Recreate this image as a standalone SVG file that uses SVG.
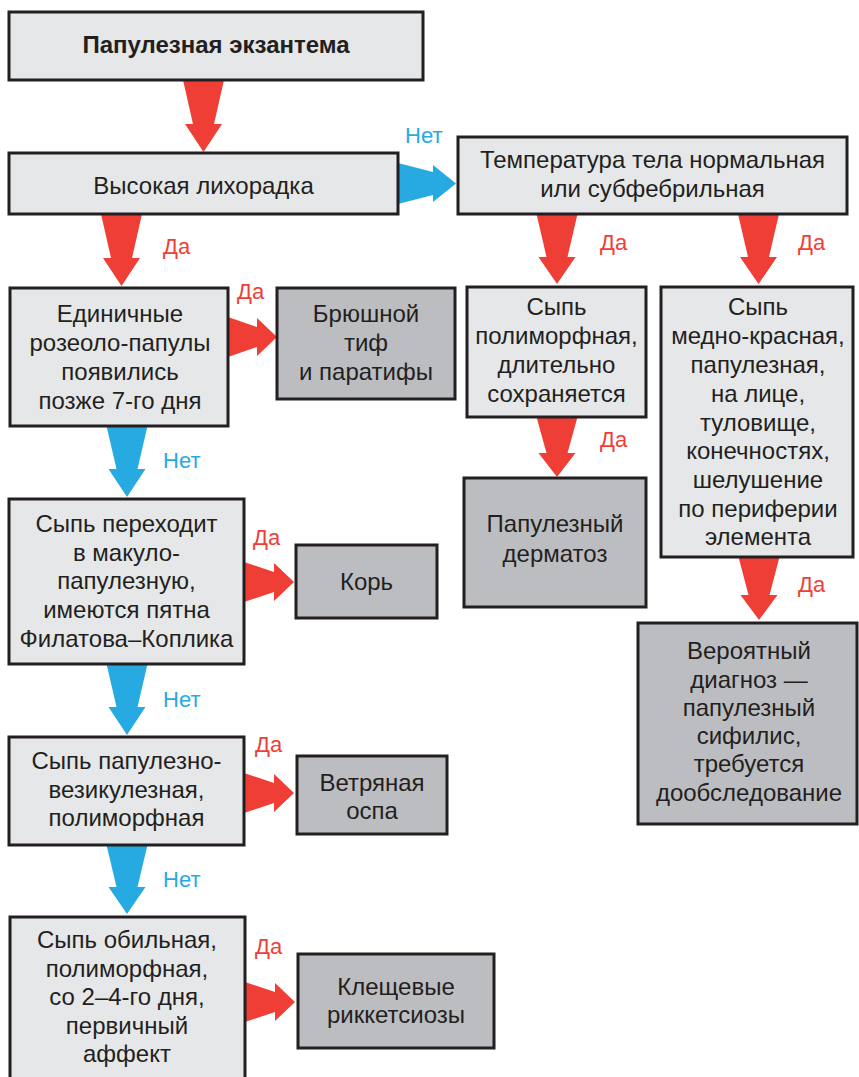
<svg xmlns="http://www.w3.org/2000/svg" width="859" height="1077" viewBox="0 0 859 1077">
<style>
.q{fill:#e6e7e8;stroke:#231f20;stroke-width:3}
.r{fill:#bcbdc0;stroke:#231f20;stroke-width:3}
.t{font-family:"Liberation Sans",Arial,sans-serif;font-size:24px;fill:#231f20;text-anchor:middle}
.b{font-weight:bold}
.red{fill:#ef3e36}
.blue{fill:#27aae1}
.ly{font-family:"Liberation Sans",Arial,sans-serif;font-size:22px;fill:#ef3e36}
.ln{font-family:"Liberation Sans",Arial,sans-serif;font-size:22px;fill:#27aae1}
</style>
<rect width="859" height="1077" fill="#ffffff"/>
<g id="connectors">
<polygon class="red" points="183,80 224,80 214,124 222,124 203.5,152 185,124 193,124"/>
<polygon class="red" points="101,214 142,214 132,258 140,258 121.5,286 103,258 111,258"/>
<polygon class="blue" points="398,163 398,204 433,195 433,202 456,183.5 433,165 433,172"/>
<polygon class="red" points="536.5,214 577.5,214 567.5,257 575.5,257 557,284 538.5,257 546.5,257"/>
<polygon class="red" points="738,214 779,214 769,257 777,257 758.5,284 740,257 748,257"/>
<polygon class="red" points="228,317 228,357 257,347 257,356 277,337 257,318 257,327"/>
<polygon class="blue" points="106.5,426 147.5,426 137.5,469 145.5,469 127,497 108.5,469 116.5,469"/>
<polygon class="red" points="536.5,417 577.5,417 567.5,453 575.5,453 557,477 538.5,453 546.5,453"/>
<polygon class="red" points="738.5,557 779.5,557 769.5,595 777.5,595 759,620 740.5,595 748.5,595"/>
<polygon class="red" points="244,562 244,602 274,592 274,601 294,582 274,563 274,572"/>
<polygon class="blue" points="106.5,664 147.5,664 137.5,707 145.5,707 127,735 108.5,707 116.5,707"/>
<polygon class="red" points="244,773 244,813 274,803 274,812 294,793 274,774 274,783"/>
<polygon class="blue" points="106.5,845 147.5,845 137.5,887 145.5,887 127,914 108.5,887 116.5,887"/>
<polygon class="red" points="245,982 245,1022 275,1012 275,1021 295,1002 275,983 275,992"/>
<text class="ln" x="405" y="143">Нет</text>
<text class="ly" x="163" y="254">Да</text>
<text class="ly" x="600" y="250">Да</text>
<text class="ly" x="798" y="250">Да</text>
<text class="ly" x="237" y="299">Да</text>
<text class="ln" x="163" y="468">Нет</text>
<text class="ly" x="600" y="447">Да</text>
<text class="ly" x="253" y="545">Да</text>
<text class="ly" x="798" y="592">Да</text>
<text class="ln" x="163" y="707">Нет</text>
<text class="ly" x="255" y="752">Да</text>
<text class="ln" x="163" y="887">Нет</text>
<text class="ly" x="255" y="954">Да</text>
</g>
<g id="n1"><rect class="q" x="9" y="12" width="414" height="68"/><text class="t b" x="216" y="53">Папулезная экзантема</text></g>
<g id="n2"><rect class="q" x="9" y="153" width="389" height="61"/><text class="t" x="203.5" y="194">Высокая лихорадка</text></g>
<g id="n3"><rect class="q" x="458" y="137" width="389" height="77"/><text class="t" x="652.5" y="168">Температура тела нормальная</text><text class="t" x="652.5" y="197">или субфебрильная</text></g>
<g id="n4"><rect class="q" x="10" y="288" width="218" height="138"/><text class="t" x="120" y="322">Единичные</text><text class="t" x="120" y="351">розеоло-папулы</text><text class="t" x="120" y="380">появились</text><text class="t" x="120" y="409">позже 7-го дня</text></g>
<g id="n5"><rect class="r" x="277" y="288" width="178" height="111"/><text class="t" x="366" y="322">Брюшной</text><text class="t" x="366" y="351">тиф</text><text class="t" x="366" y="380">и паратифы</text></g>
<g id="n6"><rect class="q" x="467" y="287" width="179" height="130"/><text class="t" x="556.5" y="315">Сыпь</text><text class="t" x="556.5" y="344">полиморфная,</text><text class="t" x="556.5" y="373">длительно</text><text class="t" x="556.5" y="402">сохраняется</text></g>
<g id="n7"><rect class="q" x="661" y="287" width="192" height="270"/><text class="t" x="758" y="315">Сыпь</text><text class="t" x="758" y="344">медно-красная,</text><text class="t" x="758" y="373">папулезная,</text><text class="t" x="758" y="402">на лице,</text><text class="t" x="758" y="431">туловище,</text><text class="t" x="758" y="459">конечностях,</text><text class="t" x="758" y="488">шелушение</text><text class="t" x="758" y="517">по периферии</text><text class="t" x="758" y="545">элемента</text></g>
<g id="n8"><rect class="r" x="464" y="478" width="182" height="129"/><text class="t" x="555" y="532">Папулезный</text><text class="t" x="555" y="562">дерматоз</text></g>
<g id="n9"><rect class="q" x="9" y="499" width="235" height="165"/><text class="t" x="126.5" y="532">Сыпь переходит</text><text class="t" x="126.5" y="561">в макуло-</text><text class="t" x="126.5" y="589">папулезную,</text><text class="t" x="126.5" y="618">имеются пятна</text><text class="t" x="126.5" y="647">Филатова–Коплика</text></g>
<g id="n10"><rect class="r" x="296" y="545" width="141" height="73"/><text class="t" x="366.5" y="590">Корь</text></g>
<g id="n11"><rect class="r" x="638" y="623" width="219" height="201"/><text class="t" x="749" y="659">Вероятный</text><text class="t" x="749" y="688">диагноз —</text><text class="t" x="749" y="716">папулезный</text><text class="t" x="749" y="744">сифилис,</text><text class="t" x="749" y="772">требуется</text><text class="t" x="749" y="801">дообследование</text></g>
<g id="n12"><rect class="q" x="9" y="737" width="235" height="108"/><text class="t" x="126.5" y="769">Сыпь папулезно-</text><text class="t" x="126.5" y="798">везикулезная,</text><text class="t" x="126.5" y="826">полиморфная</text></g>
<g id="n13"><rect class="r" x="297" y="756" width="150" height="78"/><text class="t" x="372" y="791">Ветряная</text><text class="t" x="372" y="819">оспа</text></g>
<g id="n14"><rect class="q" x="10" y="917" width="235" height="170"/><text class="t" x="127" y="948">Сыпь обильная,</text><text class="t" x="127" y="977">полиморфная,</text><text class="t" x="127" y="1005">со 2–4-го дня,</text><text class="t" x="127" y="1034">первичный</text><text class="t" x="127" y="1062">аффект</text></g>
<g id="n15"><rect class="r" x="298" y="954" width="196" height="94"/><text class="t" x="396" y="995">Клещевые</text><text class="t" x="396" y="1023">риккетсиозы</text></g>
</svg>
